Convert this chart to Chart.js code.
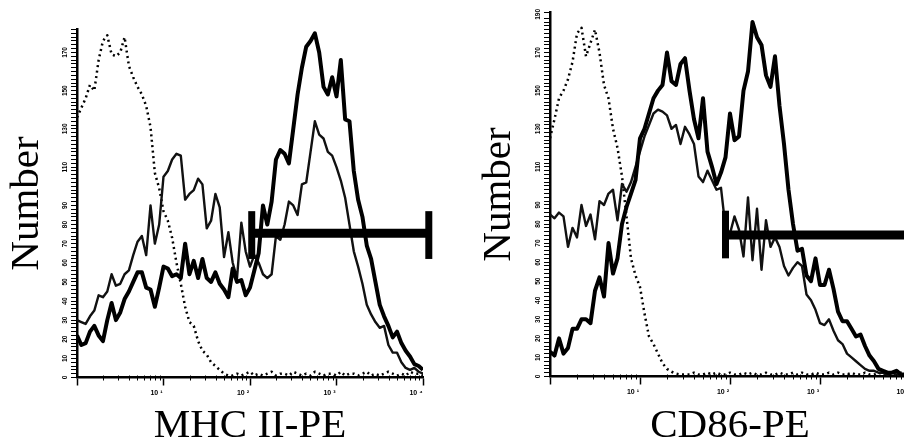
<!DOCTYPE html>
<html>
<head>
<meta charset="utf-8">
<title>MHC II-PE / CD86-PE histograms</title>
<script src="https://cdn.jsdelivr.net/npm/chart.js@4.4.1/dist/chart.umd.min.js"></script>
<style>
    html, body { margin: 0; padding: 0; background: #fff; }
    body { width: 904px; height: 447px; overflow: hidden; position: relative; }
    canvas { position: absolute; top: 0; }
    #mhcChart { left: 0; }
    #cd86Chart { left: 473px; }
</style>
</head>
<body>
<canvas id="mhcChart" width="452" height="447"></canvas>
<canvas id="cd86Chart" width="460" height="447"></canvas>
<script>
// channels: 20 per decade, 10^0 .. 10^4
var logSteps = []
for (var i = 0; i <= 80; i++) logSteps.push(i / 20)
var channels = logSteps.map(function (e) { return Math.pow(10, e) })

// axis ticks / labels
var decades = [1, 10, 100, 1000, 10000]
var xTickValues = [1, 2, 3, 4, 5, 6, 7, 8, 9, 10, 20, 30, 40, 50, 60, 70, 80, 90,
    100, 200, 300, 400, 500, 600, 700, 800, 900, 1000, 2000, 3000, 4000, 5000, 6000, 7000, 8000, 9000, 10000]
var xTickText = { 10: "10 \u00b9", 100: "10 \u00b2", 1000: "10 \u00b3", 10000: "10 \u2074" }
var mhcYLabels = [0, 10, 20, 30, 40, 50, 60, 70, 80, 90, 110, 130, 150, 170]
var cd86YLabels = [0, 10, 20, 30, 40, 50, 60, 70, 80, 90, 110, 130, 150, 170, 190]

// MHC II-PE panel
var mhcControl = [136, 141, 146, 153, 150, 166, 176, 179, 169, 168,
    170, 178, 163, 157, 152, 148, 142, 131, 107, 99,
    87, 82, 73, 60, 49, 37, 29, 27, 19, 14,
    12, 8, 6, 4, 2, 1, 1, 2, 1, 2,
    3, 1, 2, 1, 2, 3, 1, 2, 2, 1,
    3, 2, 1, 2, 1, 3, 2, 1, 2, 2,
    1, 3, 1, 2, 2, 1, 2, 3, 1, 2,
    1, 2, 3, 2, 1, 2, 1, 3, 2, 2, 1]
var mhcThin = [30, 29, 28, 32, 35, 43, 42, 45, 54, 48,
    49, 54, 56, 64, 71, 74, 64, 90, 70, 80,
    105, 108, 114, 117, 116, 93, 96, 98, 104, 101,
    78, 82, 96, 89, 63, 76, 60, 52, 81, 66,
    58, 64, 60, 54, 52, 54, 74, 72, 80, 92,
    90, 85, 101, 102, 118, 134, 127, 125, 118, 116,
    110, 103, 94, 80, 66, 58, 49, 38, 33, 29,
    26, 27, 17, 13, 13, 8, 5, 4, 5, 3, 2]
var mhcThick = [22, 17, 18, 24, 27, 22, 19, 30, 39, 30,
    34, 41, 45, 50, 55, 55, 47, 46, 37, 47,
    58, 57, 53, 54, 52, 70, 54, 61, 52, 62,
    52, 50, 55, 49, 46, 42, 57, 50, 51, 43,
    47, 56, 65, 90, 80, 92, 114, 119, 117, 112,
    130, 148, 162, 173, 176, 180, 170, 152, 148, 157,
    147, 166, 135, 134, 108, 93, 84, 69, 62, 50,
    38, 32, 27, 21, 24, 18, 14, 11, 7, 6, 4]
// gate: [start, end, level, capLow, capHigh]
var mhcGate = [104.7, 11670, 75.4, 62, 87]

// CD86-PE panel
var cd86Control = [125, 135, 146, 150, 156, 165, 180, 183, 168, 175,
    182, 170, 153, 146, 130, 120, 105, 84, 62, 53,
    47, 33, 21, 17, 12, 7, 4, 2.5, 1.5, 1,
    1, 1, 2, 1, 1, 2, 1, 2, 1, 1,
    2, 1, 1, 2, 1, 2, 1, 1, 2, 1,
    1, 2, 1, 1, 2, 1, 2, 1, 1, 2,
    1, 1, 2, 1, 2, 1, 1, 2, 1, 1,
    2, 1, 1, 2, 1, 1, 2, 1, 2, 1, 1]
var cd86Thin = [85, 83, 86, 84, 68, 78, 73, 90, 79, 85,
    72, 92, 90, 96, 98, 82, 101, 97, 102, 110,
    118, 126, 132, 138, 140, 139, 137, 130, 132, 122,
    131, 127, 122, 105, 102, 108, 103, 98, 99, 78,
    75, 84, 77, 63, 94, 61, 88, 56, 82, 68,
    73, 68, 58, 53, 57, 60, 58, 43, 40, 35,
    28, 27, 30, 24, 19, 17, 12, 10, 8, 6,
    4, 3, 3, 2, 2, 1, 2, 1, 1, 1, 1]
var cd86Thick = [13, 11, 20, 12, 15, 25, 25, 30, 30, 28,
    45, 52, 42, 70, 54, 62, 80, 89, 96, 103,
    125, 130, 138, 146, 150, 153, 170, 155, 153, 164,
    167, 150, 135, 125, 146, 118, 110, 101, 107, 115,
    138, 124, 126, 150, 160, 186, 178, 174, 158, 152,
    168, 142, 122, 98, 80, 66, 67, 53, 50, 62,
    48, 48, 56, 46, 34, 29, 29, 25, 21, 22,
    16, 11, 8, 4, 3, 2, 2, 3, 1, 1, 1]
var cd86Gate = [89.1, 11670, 74.2, 62, 87]

function toPoints(values) {
    return values.map(function (v, i) { return { x: channels[i], y: v } })
}

// small log ticks across the x axis + rotated y labels
var axisMarks = {
    id: "axisMarks",
    afterDraw: function (chart, args, opts) {
        var ctx = chart.ctx
        var xs = chart.scales.x
        var ys = chart.scales.y
        ctx.save()
        ctx.strokeStyle = "#000"
        ctx.lineWidth = 1
        xs.ticks.forEach(function (t) {
            if (t.major) return
            var px = Math.round(xs.getPixelForValue(t.value)) + 0.5
            ctx.beginPath()
            ctx.moveTo(px, xs.top - 2)
            ctx.lineTo(px, xs.top + 3)
            ctx.stroke()
        })
        ctx.fillStyle = "#000"
        ctx.font = "bold 6.5px 'Liberation Sans'"
        ctx.textAlign = "center"
        ctx.textBaseline = "middle"
        opts.labels.forEach(function (v) {
            ctx.save()
            ctx.translate(ys.right - 12, ys.getPixelForValue(v))
            ctx.rotate(-Math.PI / 2)
            ctx.fillText(String(v), 0, 0)
            ctx.restore()
        })
        ctx.restore()
    },
}

function histogramPanel(id, cfg) {
    var gate = cfg.gate
    var lineBase = { pointRadius: 0, tension: 0, fill: false, borderColor: "#000", borderJoinStyle: "round" }
    return new Chart(id, {
        type: "line",
        data: {
            datasets: [
                Object.assign({}, lineBase, {
                    data: [{ x: gate[0], y: gate[2] }, { x: gate[1], y: gate[2] }],
                    borderWidth: 9, borderCapStyle: "butt", clip: false,
                }),
                Object.assign({}, lineBase, {
                    data: [{ x: gate[0], y: gate[3] }, { x: gate[0], y: gate[4] }],
                    borderWidth: 7, borderCapStyle: "butt", clip: false,
                }),
                Object.assign({}, lineBase, {
                    data: [{ x: gate[1], y: gate[3] }, { x: gate[1], y: gate[4] }],
                    borderWidth: 7, borderCapStyle: "butt", clip: false,
                }),
                Object.assign({}, lineBase, { data: toPoints(cfg.thick), borderWidth: 4 }),
                Object.assign({}, lineBase, { data: toPoints(cfg.thin), borderWidth: 2.4, borderColor: "#111" }),
                Object.assign({}, lineBase, { data: toPoints(cfg.control), borderWidth: 2.5, borderDash: [2, 3.5] }),
            ],
        },
        options: {
            responsive: false,
            animation: false,
            events: [],
            layout: { padding: { top: cfg.top, right: cfg.right, left: 0, bottom: 0 } },
            plugins: {
                legend: { display: false },
                tooltip: { enabled: false },
                axisMarks: { labels: cfg.yLabels },
            },
            scales: {
                x: {
                    type: "logarithmic",
                    min: 1,
                    max: 10000,
                    afterFit: function (s) { s.height = cfg.xHeight },
                    afterBuildTicks: function (s) {
                        s.ticks = xTickValues.map(function (v) {
                            return { value: v, major: decades.indexOf(v) >= 0 }
                        })
                    },
                    border: { display: true, width: 2.5, color: "#000" },
                    grid: {
                        drawOnChartArea: false,
                        tickLength: 8,
                        tickWidth: 1.5,
                        tickColor: function (c) { return c.tick && c.tick.major ? "#000" : "rgba(0,0,0,0)" },
                    },
                    ticks: {
                        autoSkip: false,
                        maxRotation: 0,
                        padding: 3,
                        labelOffset: -7,
                        color: "#000",
                        font: { family: "Liberation Sans", size: 7, weight: "bold" },
                        callback: function (v) { return xTickText[v] || "" },
                    },
                    title: {
                        display: true,
                        text: cfg.xTitle,
                        color: "#000",
                        padding: 0,
                        font: { family: "Liberation Serif", size: 41, lineHeight: 1 },
                    },
                },
                y: {
                    min: 0,
                    max: cfg.yMax,
                    afterFit: function (s) { s.width = 77 },
                    border: { display: true, width: 2.5, color: "#000" },
                    grid: { drawOnChartArea: false, tickLength: 6, tickWidth: 1, tickColor: "#000" },
                    ticks: { display: false, stepSize: 2, autoSkip: false },
                    title: {
                        display: true,
                        text: "Number",
                        color: "#000",
                        padding: { top: cfg.yTitlePad, bottom: 0 },
                        font: { family: "Liberation Serif", size: 41, lineHeight: 1 },
                    },
                },
            },
        },
        plugins: [axisMarks],
    })
}

histogramPanel("mhcChart", {
    control: mhcControl, thin: mhcThin, thick: mhcThick, gate: mhcGate,
    yLabels: mhcYLabels, yMax: 182, xTitle: "MHC II-PE",
    top: 29.5, right: 29, xHeight: 69.5, yTitlePad: 7,
})

histogramPanel("cd86Chart", {
    control: cd86Control, thin: cd86Thin, thick: cd86Thick, gate: cd86Gate,
    yLabels: cd86YLabels, yMax: 191, xTitle: "CD86-PE",
    top: 12.5, right: 23, xHeight: 70.5, yTitlePad: 5.5,
})
</script>
</body>
</html>
